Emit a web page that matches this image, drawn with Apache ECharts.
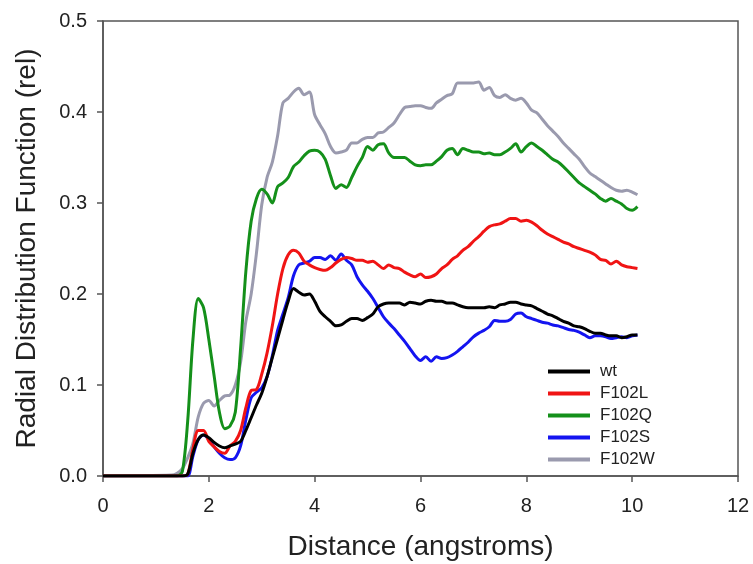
<!DOCTYPE html>
<html>
<head>
<meta charset="utf-8">
<script src="https://cdn.jsdelivr.net/npm/echarts@6/dist/echarts.min.js"></script>
<style>html,body{margin:0;padding:0;background:#fff;}#chart{width:753px;height:564px;}</style>
</head>
<body>
<div id="chart"></div>
<script>
// Distance (angstroms)
const distance = [0, 1.3, 1.4, 1.5, 1.6, 1.7, 1.8, 1.9, 2.0, 2.1, 2.2, 2.3, 2.4, 2.5, 2.6, 2.7, 2.8, 2.9, 3.0,
  3.1, 3.2, 3.3, 3.4, 3.5, 3.6, 3.7, 3.8, 3.9, 4.0, 4.1, 4.2, 4.3, 4.4, 4.5, 4.6, 4.7, 4.8, 4.9, 5.0,
  5.1, 5.2, 5.3, 5.4, 5.5, 5.6, 5.7, 5.8, 5.9, 6.0, 6.1, 6.2, 6.3, 6.4, 6.5, 6.6, 6.7, 6.8, 6.9, 7.0,
  7.1, 7.2, 7.3, 7.4, 7.5, 7.6, 7.7, 7.8, 7.9, 8.0, 8.1, 8.2, 8.3, 8.4, 8.5, 8.6, 8.7, 8.8, 8.9, 9.0,
  9.1, 9.2, 9.3, 9.4, 9.5, 9.6, 9.7, 9.8, 9.9, 10.0, 10.1];

const wt = [0, 0, 0, 0, 0.002, 0.025, 0.04, 0.045, 0.042, 0.037, 0.033, 0.031, 0.033, 0.035, 0.038, 0.05, 0.064, 0.078, 0.091,
  0.109, 0.13, 0.151, 0.172, 0.192, 0.206, 0.202, 0.199, 0.2, 0.192, 0.181, 0.175, 0.17, 0.165, 0.166, 0.17, 0.173, 0.173, 0.171, 0.174,
  0.178, 0.186, 0.189, 0.19, 0.19, 0.19, 0.188, 0.191, 0.19, 0.189, 0.192, 0.193, 0.192, 0.192, 0.19, 0.19, 0.188, 0.186, 0.185, 0.185,
  0.185, 0.185, 0.186, 0.185, 0.188, 0.189, 0.191, 0.191, 0.189, 0.188, 0.187, 0.184, 0.181, 0.178, 0.176, 0.173, 0.17, 0.168, 0.165, 0.164,
  0.162, 0.159, 0.157, 0.157, 0.155, 0.154, 0.154, 0.152, 0.153, 0.155, 0.155];

const f102L = [0, 0, 0, 0, 0.002, 0.03, 0.05, 0.05, 0.038, 0.032, 0.027, 0.025, 0.033, 0.038, 0.05, 0.075, 0.094, 0.095, 0.112,
  0.135, 0.165, 0.2, 0.228, 0.243, 0.248, 0.245, 0.236, 0.232, 0.229, 0.227, 0.226, 0.229, 0.234, 0.238, 0.24, 0.239, 0.237, 0.237, 0.235,
  0.236, 0.232, 0.228, 0.232, 0.229, 0.228, 0.224, 0.221, 0.219, 0.222, 0.218, 0.219, 0.222, 0.228, 0.232, 0.238, 0.242, 0.248, 0.252, 0.258,
  0.263, 0.269, 0.274, 0.276, 0.277, 0.28, 0.283, 0.283, 0.28, 0.281, 0.279, 0.275, 0.27, 0.266, 0.263, 0.26, 0.257, 0.255, 0.252, 0.25,
  0.248, 0.246, 0.243, 0.238, 0.237, 0.233, 0.236, 0.232, 0.23, 0.229, 0.228];

const f102Q = [0, 0, 0, 0.005, 0.06, 0.15, 0.195, 0.185, 0.15, 0.11, 0.07, 0.052, 0.055, 0.07, 0.14, 0.225, 0.28, 0.305, 0.315,
  0.31, 0.3, 0.318, 0.322, 0.328, 0.34, 0.345, 0.352, 0.357, 0.358, 0.356, 0.348, 0.33, 0.316, 0.32, 0.317, 0.328, 0.34, 0.35, 0.362,
  0.358, 0.364, 0.365, 0.355, 0.35, 0.35, 0.35, 0.346, 0.342, 0.341, 0.342, 0.342, 0.346, 0.351, 0.358, 0.36, 0.353, 0.36, 0.358, 0.356,
  0.356, 0.354, 0.355, 0.353, 0.353, 0.356, 0.36, 0.365, 0.356, 0.362, 0.366, 0.362, 0.358, 0.353, 0.348, 0.345, 0.34, 0.334, 0.328, 0.322,
  0.318, 0.314, 0.31, 0.305, 0.302, 0.305, 0.302, 0.299, 0.294, 0.292, 0.296];

const f102S = [0, 0, 0, 0, 0, 0.022, 0.04, 0.045, 0.04, 0.032, 0.025, 0.02, 0.018, 0.02, 0.033, 0.062, 0.086, 0.092, 0.097,
  0.109, 0.132, 0.16, 0.178, 0.196, 0.22, 0.232, 0.234, 0.236, 0.24, 0.24, 0.238, 0.242, 0.237, 0.244, 0.237, 0.232, 0.219, 0.21, 0.203,
  0.195, 0.185, 0.175, 0.168, 0.162, 0.155, 0.148, 0.14, 0.132, 0.127, 0.131, 0.126, 0.131, 0.129, 0.13, 0.133, 0.137, 0.142, 0.147, 0.153,
  0.157, 0.16, 0.164, 0.171, 0.17, 0.17, 0.172, 0.178, 0.179, 0.175, 0.173, 0.171, 0.169, 0.168, 0.166, 0.165, 0.163, 0.161, 0.16, 0.158,
  0.155, 0.152, 0.154, 0.154, 0.153, 0.151, 0.152, 0.153, 0.152, 0.154, 0.155];

const f102W = [0, 0.001, 0.003, 0.008, 0.02, 0.036, 0.065, 0.08, 0.083, 0.077, 0.083, 0.088, 0.089, 0.1, 0.125, 0.17, 0.2, 0.245, 0.298,
  0.328, 0.345, 0.374, 0.41, 0.415, 0.422, 0.426, 0.419, 0.422, 0.397, 0.386, 0.376, 0.362, 0.355, 0.356, 0.358, 0.366, 0.366, 0.37, 0.372,
  0.372, 0.377, 0.378, 0.383, 0.388, 0.397, 0.405, 0.406, 0.407, 0.407, 0.405, 0.404, 0.41, 0.414, 0.418, 0.42, 0.432, 0.432, 0.432, 0.432,
  0.433, 0.424, 0.427, 0.418, 0.416, 0.419, 0.415, 0.413, 0.415, 0.41, 0.402, 0.399, 0.392, 0.385, 0.379, 0.373, 0.366, 0.36, 0.354, 0.348,
  0.34, 0.333, 0.329, 0.325, 0.321, 0.317, 0.314, 0.313, 0.314, 0.312, 0.309];

const seriesNames = ['wt', 'F102L', 'F102Q', 'F102S', 'F102W'];
const seriesValues = [wt, f102L, f102Q, f102S, f102W];
const seriesColors = ['#000000', '#f01414', '#14901a', '#1414f0', '#9a9aae'];

const xTicks = [0, 2, 4, 6, 8, 10, 12];
const yTicks = [0.0, 0.1, 0.2, 0.3, 0.4, 0.5];

const font = 'Liberation Sans, Arial, sans-serif';
const chart = echarts.init(document.getElementById('chart'));
chart.setOption({
  animation: false,
  backgroundColor: '#ffffff',
  grid: { left: 103, right: 15, top: 21, bottom: 88, outerBoundsMode: 'none', containLabel: false,
    show: true, borderColor: '#555', borderWidth: 1.5, backgroundColor: 'transparent' },
  legend: {
    orient: 'vertical', left: 543, top: 358,
    itemWidth: 42, itemHeight: 4, itemGap: 5, icon: 'rect',
    data: seriesNames,
    textStyle: { fontFamily: font, fontSize: 17, color: '#222', lineHeight: 15, padding: [0, 0, 0, 5] }
  },
  xAxis: {
    type: 'value', min: xTicks[0], max: xTicks[xTicks.length - 1], interval: 2,
    name: 'Distance (angstroms)', nameLocation: 'middle', nameGap: 57,
    nameTextStyle: { fontFamily: font, fontSize: 28, color: '#222' },
    axisLine: { show: true, lineStyle: { color: '#555', width: 1.5 } },
    axisTick: { show: true, inside: false, length: 6, lineStyle: { color: '#555', width: 1.5 } },
    axisLabel: { fontFamily: font, fontSize: 20, color: '#222', margin: 20 },
    splitLine: { show: false }
  },
  yAxis: {
    type: 'value', min: yTicks[0], max: yTicks[yTicks.length - 1], interval: 0.1,
    name: 'Radial Distribution Function (rel)', nameLocation: 'middle', nameGap: 62,
    nameTextStyle: { fontFamily: font, fontSize: 28, color: '#222' },
    axisLine: { show: true, lineStyle: { color: '#555', width: 1.5 } },
    axisTick: { show: true, inside: false, length: 6, lineStyle: { color: '#555', width: 1.5 } },
    axisLabel: { fontFamily: font, fontSize: 20, color: '#222', margin: 16, formatter: v => v.toFixed(1) },
    splitLine: { show: false }
  },
  series: seriesNames.map((name, i) => ({
    name: name, type: 'line', showSymbol: false, symbol: 'none', smooth: 0.3,
    data: distance.map((d, j) => [d, seriesValues[i][j]]),
    lineStyle: { color: seriesColors[i], width: 3 },
    itemStyle: { color: seriesColors[i] },
    z: [5, 4, 3, 2, 1][i]
  }))
});
</script>
</body>
</html>
